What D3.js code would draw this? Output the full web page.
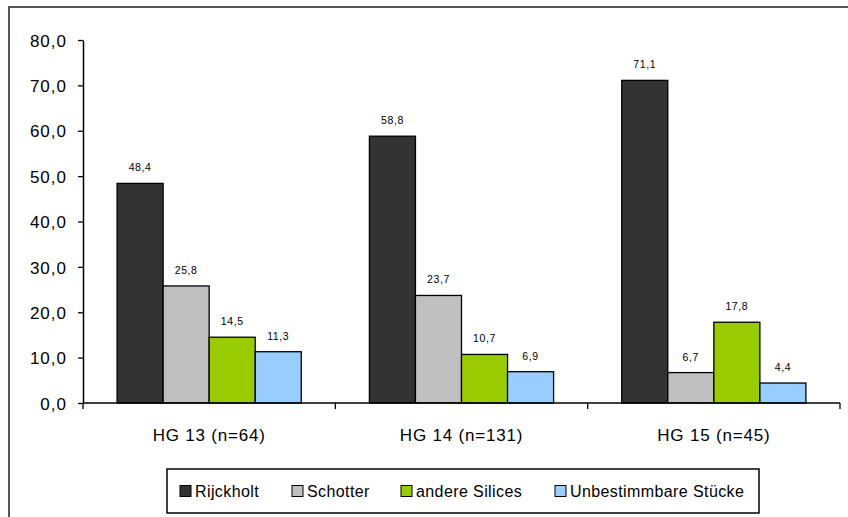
<!DOCTYPE html>
<html>
<head>
<meta charset="utf-8">
<script src="https://cdn.jsdelivr.net/npm/d3@7"></script>
<style>
  body { margin: 0; background: #fff; }
  svg text { font-family: "Liberation Sans", Arial, sans-serif; fill: #000; }
</style>
</head>
<body>
<div id="chart"></div>
<script>
// data
const categories = ["HG 13 (n=64)", "HG 14 (n=131)", "HG 15 (n=45)"];
const series = ["Rijckholt", "Schotter", "andere Silices", "Unbestimmbare Stücke"];
const rijckholt = [48.4, 58.8, 71.1];
const schotter = [25.8, 23.7, 6.7];
const andereSilices = [14.5, 10.7, 17.8];
const unbestimmbar = [11.3, 6.9, 4.4];
const yTicks = [0, 10, 20, 30, 40, 50, 60, 70, 80];

const seriesValues = [rijckholt, schotter, andereSilices, unbestimmbar];
const colors = ["#333333", "#c0c0c0", "#99cc00", "#99ccff"];

const locale = d3.formatLocale({ decimal: ",", thousands: ".", grouping: [3], currency: ["", " €"] });
const fmt = locale.format(".1f");

const width = 848, height = 517;
const plotLeft = 83, plotRight = 840, plotTop = 40, plotBottom = 403;

const svg = d3.select("#chart").append("svg")
  .attr("width", width)
  .attr("height", height);

// outer frame (cut off at right and bottom)
svg.append("rect")
  .attr("x", 9).attr("y", 7)
  .attr("width", 860).attr("height", 530)
  .attr("fill", "none")
  .attr("stroke", "#555")
  .attr("stroke-width", 2);

const y = d3.scaleLinear().domain([0, 80]).range([plotBottom, plotTop]);
const x0 = d3.scaleBand().domain(categories).range([plotLeft, plotRight]).paddingInner(0).paddingOuter(0);
const x1 = d3.scaleBand().domain(series).range([0, x0.bandwidth()]).paddingInner(0).paddingOuter(0.74);

// bars
const rows = categories.map((c, i) => ({
  cat: c,
  vals: series.map((s, j) => ({ s, j, v: seriesValues[j][i] }))
}));

const groups = svg.selectAll("g.grp").data(rows).join("g")
  .attr("class", "grp")
  .attr("transform", d => `translate(${x0(d.cat)},0)`);

groups.selectAll("rect").data(d => d.vals).join("rect")
  .attr("x", d => x1(d.s))
  .attr("y", d => y(d.v))
  .attr("width", x1.bandwidth())
  .attr("height", d => y(0) - y(d.v))
  .attr("fill", d => colors[d.j])
  .attr("stroke", "#000")
  .attr("stroke-width", 1.3);

groups.selectAll("text.val").data(d => d.vals).join("text")
  .attr("class", "val")
  .attr("x", d => x1(d.s) + x1.bandwidth() / 2)
  .attr("y", d => y(d.v) - 12)
  .attr("text-anchor", "middle")
  .style("font-size", "10.5px")
  .style("letter-spacing", "0.6px")
  .text(d => fmt(d.v));

// y axis
const yAxis = svg.append("g")
  .attr("transform", `translate(${plotLeft},0)`)
  .call(d3.axisLeft(y).tickValues(yTicks).tickFormat(fmt).tickSize(5).tickSizeOuter(0));
yAxis.select(".domain").attr("stroke", "#000").attr("stroke-width", 1.5);
yAxis.selectAll(".tick line").attr("stroke", "#000").attr("stroke-width", 1.3);
yAxis.selectAll(".tick text")
  .attr("x", -16)
  .attr("dy", "0.36em")
  .style("font-size", "17px")
  .style("letter-spacing", "1px");

// x axis
const xAxis = svg.append("g")
  .attr("transform", `translate(0,${plotBottom})`);
xAxis.append("line")
  .attr("x1", plotLeft).attr("x2", plotRight)
  .attr("stroke", "#000").attr("stroke-width", 1.5);
const bounds = categories.map(c => x0(c)).concat([x0(categories[categories.length - 1]) + x0.bandwidth()]);
xAxis.selectAll("line.tk").data(bounds).join("line")
  .attr("class", "tk")
  .attr("x1", d => d).attr("x2", d => d)
  .attr("y1", 0).attr("y2", 6)
  .attr("stroke", "#000").attr("stroke-width", 1.3);
xAxis.selectAll("text").data(categories).join("text")
  .attr("x", d => x0(d) + x0.bandwidth() / 2)
  .attr("y", 38)
  .attr("text-anchor", "middle")
  .style("font-size", "17px")
  .style("letter-spacing", "0.8px")
  .text(d => d);

// legend
const legend = svg.append("g");
legend.append("rect")
  .attr("x", 167).attr("y", 469)
  .attr("width", 592).attr("height", 44)
  .attr("fill", "#fff")
  .attr("stroke", "#000")
  .attr("stroke-width", 1.5);
const legendX = [180, 292, 401, 555];
const items = legend.selectAll("g.item").data(series).join("g")
  .attr("class", "item")
  .attr("transform", (d, i) => `translate(${legendX[i]},491)`);
items.append("rect")
  .attr("x", 0).attr("y", -5.5)
  .attr("width", 11).attr("height", 11)
  .attr("fill", (d, i) => colors[i])
  .attr("stroke", "#000")
  .attr("stroke-width", 1);
items.append("text")
  .attr("x", 15)
  .attr("dy", "0.36em")
  .style("font-size", "16px")
  .style("letter-spacing", "0.4px")
  .text(d => d);
</script>
</body>
</html>
